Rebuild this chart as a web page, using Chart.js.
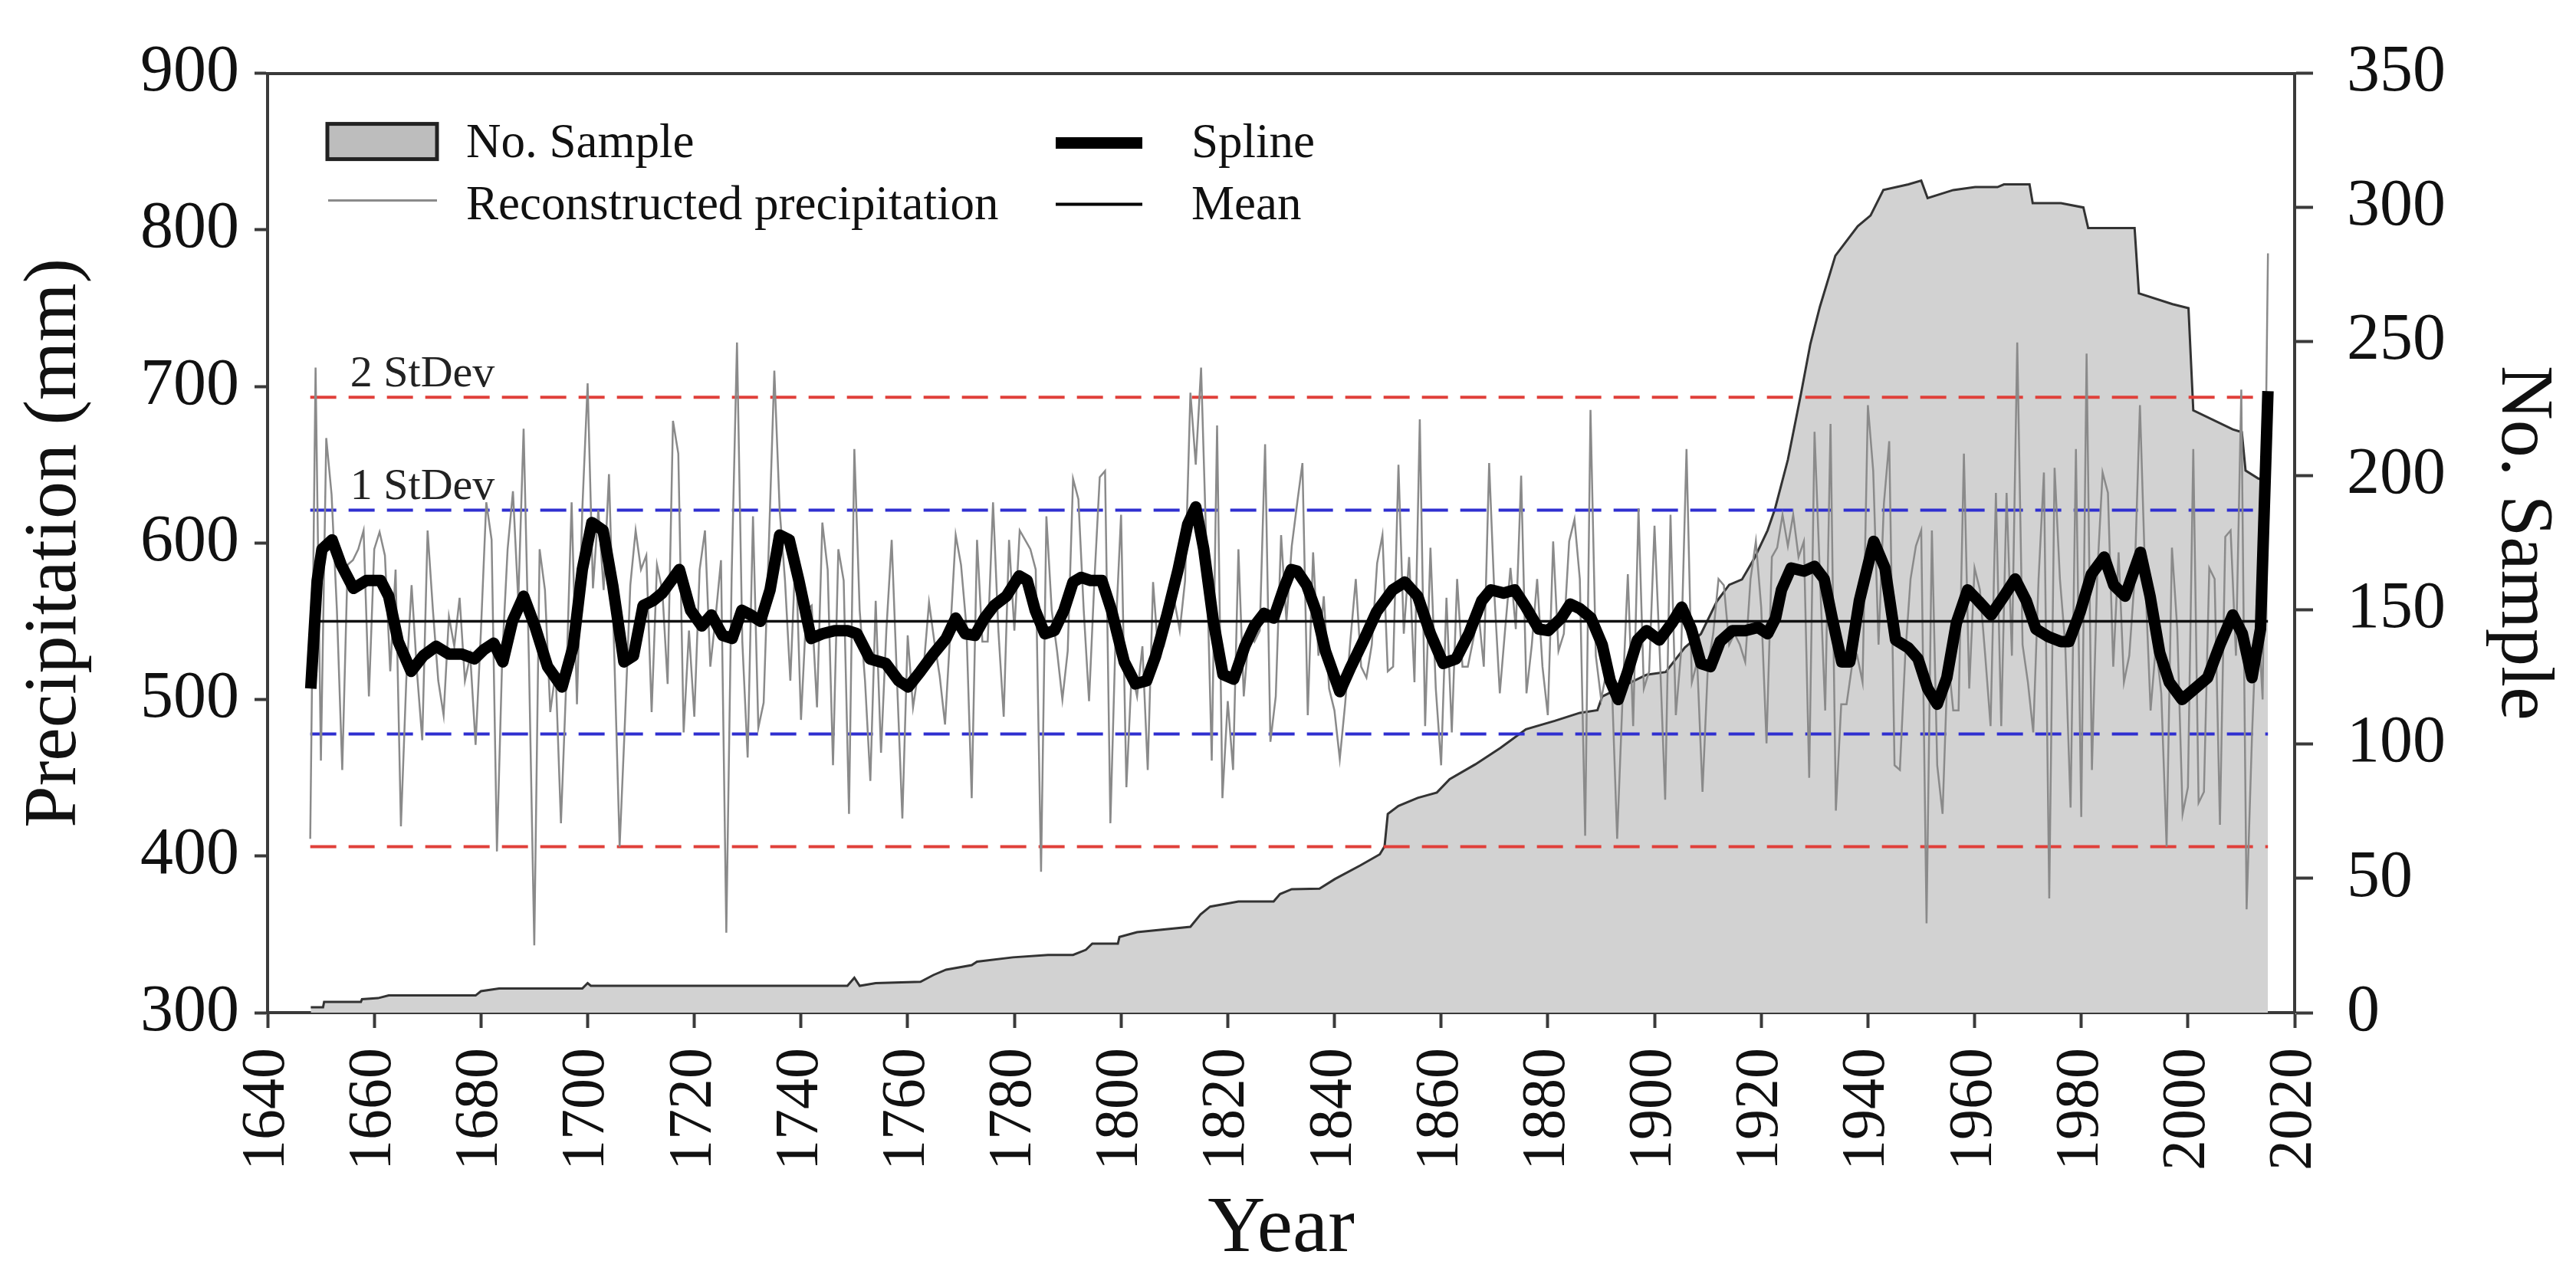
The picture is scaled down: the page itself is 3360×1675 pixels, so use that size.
<!DOCTYPE html>
<html>
<head>
<meta charset="utf-8">
<title>Reconstructed precipitation</title>
<script src="https://cdn.jsdelivr.net/npm/chart.js@4.4.1/dist/chart.umd.min.js"></script>
<style>
  html, body { margin: 0; padding: 0; background: #fff; overflow: hidden; }
  #wrap { position: relative; width: 3360px; height: 1675px; }
</style>
</head>
<body>
<div id="wrap"><canvas id="chart"></canvas></div>
<script>
// --- Data ---
const precipStartYears = [1648, 1739, 1832, 1924];

const precip1648 = [
  411, 712, 461, 667, 631, 557, 455, 586, 589, 596,
  608, 502, 596, 607, 592, 518, 583, 419, 512, 573,
  518, 474, 608, 557, 512, 490, 553, 534, 565, 512,
  528, 471, 544, 626, 602, 403, 528, 596, 633, 563,
  673, 524, 343, 596, 570, 492, 518, 421, 512, 626,
  497, 621, 702, 571, 621, 570, 644, 528, 406, 486,
  573, 608, 583, 592, 492, 586, 570, 510, 678, 657,
  479, 544, 489, 583, 608, 521, 553, 589, 351, 579,
  728, 537, 463, 617, 482, 498, 602, 710, 621, 576,
  512
];
const precip1739 = [
  596, 487, 557, 560, 495, 613, 583, 458, 596, 576,
  427, 660, 557, 512, 448, 563, 466, 544, 602, 512,
  424, 541, 495, 518, 521, 562, 537, 515, 484, 544,
  605, 586, 547, 437, 602, 537, 537, 626, 544, 489,
  602, 544, 608, 602, 596, 583, 390, 617, 557, 531,
  500, 531, 641, 628, 557, 499, 576, 642, 646, 421,
  544, 618, 444, 518, 502, 534, 455, 575, 528, 534,
  547, 563, 544, 576, 696, 650, 712, 596, 461, 675,
  437, 499, 455, 596, 502, 544, 537, 544, 663, 473,
  502, 605, 550
];
const precip1832 = [
  598, 625, 651, 490, 594, 528, 566, 507, 493, 462,
  497, 538, 577, 521, 514, 535, 587, 605, 518, 521,
  650, 542, 591, 511, 679, 483, 597, 507, 458, 565,
  479, 577, 521, 521, 538, 556, 521, 651, 566, 504,
  545, 584, 545, 643, 504, 535, 577, 521, 490, 601,
  531, 542, 601, 615, 577, 413, 685, 528, 500, 518,
  511, 411, 500, 580, 483, 622, 507, 518, 611, 528,
  436, 618, 490, 531, 660, 511, 524, 441, 521, 542,
  577, 573, 535, 542, 535, 524, 577, 601, 559, 472,
  591, 597
];
const precip1924 = [
  618, 598, 618, 591, 601, 450, 671, 580, 493, 676,
  429, 497, 497, 521, 528, 511, 688, 646, 535, 625,
  665, 458, 455, 528, 577, 598, 608, 357, 608, 458,
  427, 528, 493, 493, 657, 507, 584, 570, 528, 483,
  632, 483, 632, 528, 728, 535, 511, 479, 577, 645,
  373, 648, 577, 535, 431, 660, 425, 721, 455, 580,
  645, 632, 521, 594, 511, 528, 577, 688, 577, 493,
  535, 504, 406, 597, 545, 427, 444, 660, 434, 441,
  584, 577, 420, 604, 608, 528, 698, 366, 476, 563,
  500, 785
];

const splineYears = [
  1648.1, 1649.3, 1650.2, 1652.1, 1653.8, 1656.1, 1658.5, 1661.2, 1662.7, 1664.5,
  1666.9, 1669.2, 1671.6, 1674.0, 1676.4, 1678.8, 1680.6, 1682.4, 1684.1, 1685.9,
  1688.0, 1690.1, 1692.5, 1695.2, 1697.3, 1699.0, 1700.8, 1702.9, 1704.7, 1706.8,
  1708.6, 1710.4, 1712.2, 1714.0, 1715.7, 1717.2, 1719.3, 1721.4, 1723.2, 1725.3,
  1727.1, 1728.9, 1730.6, 1732.4, 1734.2, 1736.0, 1737.8, 1739.6, 1741.9, 1744.0,
  1746.3, 1748.7, 1750.5, 1752.9, 1755.9, 1758.3, 1760.1, 1762.4, 1764.8, 1767.2,
  1769.0, 1770.8, 1772.6, 1774.4, 1776.2, 1778.5, 1780.9, 1782.4, 1783.9, 1785.7,
  1787.5, 1789.3, 1791.0, 1792.5, 1794.3, 1796.4, 1798.2, 1800.6, 1802.7, 1804.8,
  1806.5, 1808.6, 1810.7, 1812.5, 1814.0, 1815.5, 1817.3, 1819.1, 1821.1, 1823.2,
  1825.0, 1826.8, 1828.6, 1830.4, 1831.9, 1833.0, 1834.8, 1836.6, 1838.3, 1841.0,
  1843.1, 1845.5, 1847.9, 1850.9, 1853.2, 1855.6, 1858.0, 1860.4, 1862.8, 1865.2,
  1867.6, 1869.3, 1871.7, 1873.8, 1875.9, 1878.3, 1880.1, 1882.5, 1884.2, 1886.0,
  1888.1, 1890.2, 1891.7, 1893.2, 1895.0, 1896.8, 1898.5, 1900.9, 1903.3, 1905.1,
  1906.9, 1908.7, 1910.5, 1912.3, 1914.6, 1917.0, 1919.4, 1921.2, 1922.7, 1923.8,
  1925.6, 1928.0, 1930.0, 1931.8, 1933.3, 1935.1, 1936.6, 1938.4, 1941.1, 1943.2,
  1945.2, 1947.6, 1949.4, 1951.2, 1953.0, 1954.8, 1956.6, 1958.7, 1960.7, 1963.1,
  1965.5, 1967.6, 1969.7, 1971.5, 1973.9, 1976.2, 1977.7, 1979.8, 1981.9, 1984.3,
  1986.1, 1988.2, 1991.1, 1992.9, 1994.7, 1996.5, 1998.9, 2001.3, 2003.7, 2006.0,
  2008.4, 2010.2, 2012.0, 2013.6, 2015.0
];
const splineValues = [
  507, 576, 596, 602, 586, 571, 576, 576, 566, 537,
  518, 528, 534, 529, 529, 526, 532, 536, 524, 550,
  566, 547, 521, 508, 534, 583, 613, 608, 573, 524,
  528, 560, 563, 568, 576, 583, 557, 547, 554, 541,
  539, 557, 554, 550, 570, 605, 602, 576, 539, 542,
  544, 544, 542, 526, 523, 512, 508, 518, 529, 539,
  552, 542, 541, 552, 560, 566, 579, 576, 557, 542,
  544, 557, 575, 578, 576, 576, 557, 524, 510, 512,
  528, 554, 583, 612, 623, 596, 550, 516, 513, 534,
  547, 555, 552, 570, 583, 582, 573, 556, 531, 505,
  521, 538, 556, 570, 575, 566, 542, 523, 526, 542,
  563, 570, 568, 570, 559, 545, 544, 552, 561, 558,
  552, 535, 512, 500, 518, 538, 544, 538, 549, 559,
  545, 523, 521, 537, 544, 544, 546, 542, 552, 570,
  584, 582, 585, 577, 552, 524, 524, 563, 601, 584,
  538, 533, 526, 507, 497, 514, 549, 570, 563, 554,
  566, 577, 563, 545, 540, 537, 537, 556, 580, 591,
  573, 566, 594, 566, 530, 511, 500, 507, 514, 535,
  554, 542, 514, 545, 697
];

const sampleYears = [
  1648.1, 1650.4, 1650.6, 1657.5, 1657.7, 1660.7, 1662.7, 1679.0, 1680.0, 1683.4,
  1699.0, 1700.0, 1700.6, 1738.6, 1748.7, 1750.0, 1751.0, 1754.0, 1762.4, 1764.8,
  1767.2, 1772.0, 1773.0, 1779.7, 1786.3, 1791.0, 1793.4, 1794.6, 1799.4, 1799.7,
  1803.0, 1813.0, 1814.9, 1816.7, 1822.0, 1828.6, 1829.8, 1832.0, 1837.2, 1840.1,
  1844.9, 1848.5, 1849.4, 1850.0, 1852.0, 1855.6, 1859.2, 1861.6, 1866.4, 1871.1,
  1875.9, 1881.3, 1886.0, 1889.3, 1890.2, 1894.4, 1898.5, 1902.1, 1905.7, 1908.7,
  1911.7, 1914.0, 1916.4, 1918.8, 1921.2, 1922.6, 1925.0, 1927.4, 1929.2, 1931.0,
  1933.9, 1938.1, 1940.5, 1942.9, 1947.6, 1950.0, 1951.2, 1956.0, 1960.1, 1964.3,
  1965.5, 1970.3, 1970.9, 1976.2, 1980.4, 1981.3, 1990.0, 1990.8, 1997.1, 2000.1,
  2001.0, 2008.4, 2010.1, 2010.8, 2013.2, 2015.0
];
const sampleCounts = [
  2, 2, 4, 4, 5, 5.4, 6.4, 6.4, 8, 9,
  9, 11, 10, 10, 10, 13, 10, 11, 11.5, 14,
  16, 17.7, 19, 20.6, 21.5, 21.5, 23.4, 25.7, 25.7, 28.2,
  30, 32, 36.6, 39.5, 41.4, 41.4, 44.2, 46, 46.2, 49.8,
  54.9, 59, 62, 74, 77, 80, 82, 87, 92.5, 98.6,
  105.6, 108.7, 111.7, 112.7, 117.8, 121.9, 125.9, 126.9, 136.1, 141.1,
  153.3, 159.4, 161.4, 169.6, 179.7, 187.8, 206, 230, 249, 263,
  282, 293, 297, 306.5, 308.6, 310, 303.5, 306.5, 307.6, 307.6,
  308.6, 308.6, 301.6, 301.6, 300, 292.3, 292.3, 268, 264, 262.5,
  224.4, 217.3, 216.3, 202, 199, 198
];

const periodYears = [1648, 2015];
const meanLevel = 550;
const sd1Levels = [478, 621];
const sd2Levels = [406, 693];
const sdLabels = ['2 StDev', '1 StDev'];
const sdLabelLevels = [693, 621];

const xRange = [1640, 2020, 20];
const yRange = [300, 900, 100];
const sampleRange = [0, 350, 50];

// --- Layout ---
const PLOT = { left: 349, right: 2993, top: 78, bottom: 1321 };
const W = 3360, H = 1675;
const SERIF = '"Liberation Serif", "Times New Roman", serif';
const AXIS = '#3a3a3a';
const INK = '#111';

const pts = (xs, ys) => xs.map((x, i) => ({ x, y: ys[i] }));
const flat = (y) => periodYears.map(x => ({ x, y }));

const precipPoints = [];
[precip1648, precip1739, precip1832, precip1924].forEach((arr, k) => {
  arr.forEach((v, i) => precipPoints.push({ x: precipStartYears[k] + i, y: v }));
});

// --- Plugins ---
const sdLabelPlugin = {
  id: 'sdLabels',
  afterDatasetsDraw(chart) {
    const { ctx, scales } = chart;
    ctx.save();
    ctx.font = `58px ${SERIF}`;
    ctx.fillStyle = '#222';
    ctx.textAlign = 'left';
    ctx.textBaseline = 'alphabetic';
    sdLabels.forEach((t, i) => {
      ctx.fillText(t, scales.x.getPixelForValue(1655.5), scales.y.getPixelForValue(sdLabelLevels[i]) - 14);
    });
    ctx.restore();
  }
};

const legendPlugin = {
  id: 'figLegend',
  afterDraw(chart) {
    const { ctx, chartArea: a } = chart;
    const l = a.left, t = a.top;
    ctx.save();
    // No. Sample
    ctx.fillStyle = '#bdbdbd';
    ctx.fillRect(l + 78, t + 66, 143, 46);
    ctx.lineWidth = 5;
    ctx.strokeStyle = '#222';
    ctx.strokeRect(l + 78, t + 66, 143, 46);
    // Reconstructed precipitation
    ctx.lineCap = 'butt';
    ctx.strokeStyle = '#8a8a8a';
    ctx.lineWidth = 3;
    ctx.beginPath(); ctx.moveTo(l + 79, t + 166); ctx.lineTo(l + 221, t + 166); ctx.stroke();
    // Spline
    ctx.strokeStyle = '#000';
    ctx.lineWidth = 15;
    ctx.beginPath(); ctx.moveTo(l + 1028, t + 91); ctx.lineTo(l + 1141, t + 91); ctx.stroke();
    // Mean
    ctx.lineWidth = 4;
    ctx.beginPath(); ctx.moveTo(l + 1028, t + 171); ctx.lineTo(l + 1141, t + 171); ctx.stroke();

    ctx.font = `63px ${SERIF}`;
    ctx.fillStyle = INK;
    ctx.textAlign = 'left';
    ctx.textBaseline = 'alphabetic';
    ctx.fillText('No. Sample', l + 259, t + 109);
    ctx.fillText('Reconstructed precipitation', l + 259, t + 190);
    ctx.fillText('Spline', l + 1205, t + 109);
    ctx.fillText('Mean', l + 1205, t + 190);
    ctx.restore();
  }
};

// --- Chart ---
const refLine = (y, color, dashed, width, order) => ({
  data: flat(y),
  borderColor: color,
  borderWidth: width,
  borderDash: dashed ? [34, 16] : [],
  pointRadius: 0,
  fill: false,
  order
});

new Chart(document.getElementById('chart'), {
  type: 'line',
  data: {
    datasets: [
      {
        label: 'Spline',
        data: pts(splineYears, splineValues),
        borderColor: '#000',
        borderWidth: 15,
        borderJoinStyle: 'round',
        borderCapStyle: 'butt',
        pointRadius: 0,
        fill: false,
        order: 1
      },
      Object.assign(refLine(meanLevel, '#111', false, 3.5, 2), { label: 'Mean' }),
      {
        label: 'Reconstructed precipitation',
        data: precipPoints,
        borderColor: '#8a8a8a',
        borderWidth: 2.5,
        pointRadius: 0,
        fill: false,
        order: 3
      },
      refLine(sd1Levels[0], '#2f2fd0', true, 4, 4),
      refLine(sd1Levels[1], '#2f2fd0', true, 4, 4),
      refLine(sd2Levels[0], '#e0403a', true, 4, 5),
      refLine(sd2Levels[1], '#e0403a', true, 4, 5),
      {
        label: 'No. Sample',
        data: pts(sampleYears, sampleCounts),
        yAxisID: 'y1',
        borderColor: '#333',
        borderWidth: 3,
        backgroundColor: '#d2d2d2',
        pointRadius: 0,
        fill: 'origin',
        order: 10
      }
    ]
  },
  options: {
    responsive: true,
    maintainAspectRatio: false,
    animation: false,
    layout: { padding: 0 },
    plugins: {
      legend: { display: false },
      tooltip: { enabled: false }
    },
    scales: {
      x: {
        type: 'linear',
        position: 'bottom',
        min: xRange[0], max: xRange[1],
        afterFit: s => { s.height = H - PLOT.bottom; },
        ticks: {
          stepSize: xRange[2],
          autoSkip: false,
          minRotation: 90, maxRotation: 90,
          padding: 26,
          color: INK,
          font: { family: SERIF, size: 80 },
          callback: v => String(v)
        },
        grid: { drawOnChartArea: false, tickLength: 20, tickWidth: 4, tickColor: AXIS },
        border: { display: true, color: AXIS, width: 4 },
        title: {
          display: true, text: 'Year', color: INK,
          font: { family: SERIF, size: 104 },
          padding: { top: 0, bottom: 8 }
        }
      },
      x2: {
        type: 'linear',
        position: 'top',
        min: xRange[0], max: xRange[1],
        afterFit: s => { s.height = PLOT.top; },
        ticks: { display: false },
        grid: { drawOnChartArea: false, drawTicks: false },
        border: { display: true, color: AXIS, width: 4 }
      },
      y: {
        position: 'left',
        min: yRange[0], max: yRange[1],
        afterFit: s => { s.width = PLOT.left; },
        ticks: {
          stepSize: yRange[2],
          padding: 20,
          color: INK,
          font: { family: SERIF, size: 86 },
          callback: v => String(v)
        },
        grid: { drawOnChartArea: false, tickLength: 17, tickWidth: 4, tickColor: AXIS },
        border: { display: true, color: AXIS, width: 4 },
        title: {
          display: true, text: 'Precipitation (mm)', color: INK,
          font: { family: SERIF, size: 98 },
          padding: { top: 13, bottom: 0 }
        }
      },
      y1: {
        position: 'right',
        min: sampleRange[0], max: sampleRange[1],
        afterFit: s => { s.width = W - PLOT.right; },
        ticks: {
          stepSize: sampleRange[2],
          padding: 44,
          color: INK,
          font: { family: SERIF, size: 86 },
          callback: v => String(v)
        },
        grid: { drawOnChartArea: false, tickLength: 24, tickWidth: 4, tickColor: AXIS },
        border: { display: true, color: AXIS, width: 4 },
        title: {
          display: true, text: 'No. Sample', color: INK,
          font: { family: SERIF, size: 98 },
          padding: { top: 11, bottom: 0 }
        }
      }
    }
  },
  plugins: [sdLabelPlugin, legendPlugin]
});
</script>
</body>
</html>
